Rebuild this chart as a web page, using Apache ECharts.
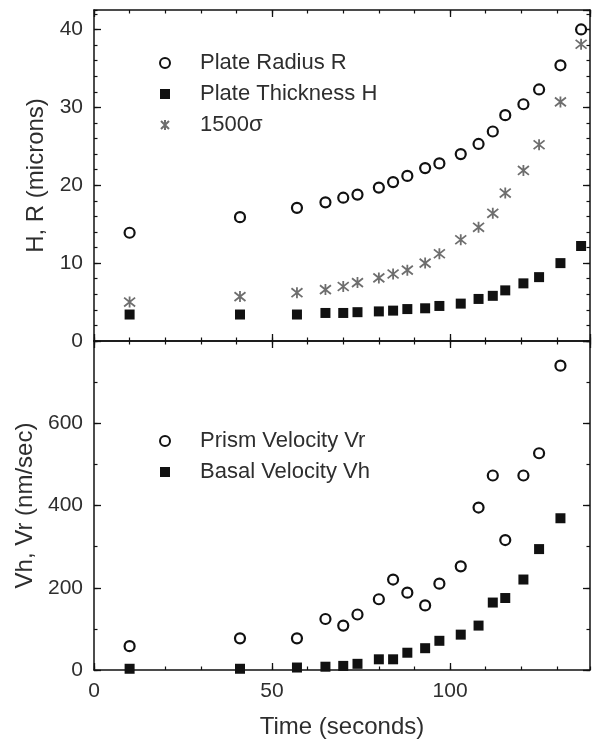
<!DOCTYPE html>
<html>
<head>
<meta charset="utf-8">
<script src="https://cdn.jsdelivr.net/npm/echarts@6/dist/echarts.min.js"></script>
<style>
  html, body { margin: 0; padding: 0; background: #ffffff; }
  #chart { width: 592px; height: 744px; }
</style>
</head>
<body>
<div id="chart"></div>
<script>
// Sampling times (s)
const timeTop = [10, 41, 57, 65, 70, 74, 80, 84, 88, 93, 97, 103, 108, 112, 115.5, 120.6, 125, 131, 136.8];
const timeBottom = [10, 41, 57, 65, 70, 74, 80, 84, 88, 93, 97, 103, 108, 112, 115.5, 120.6, 125, 131];

// Upper panel: plate dimensions (microns)
const plateRadius = [13.9, 15.9, 17.1, 17.8, 18.4, 18.8, 19.7, 20.4, 21.2, 22.2, 22.8, 24.0, 25.3, 26.9, 29.0, 30.4, 32.3, 35.4, 40.0];
const plateThickness = [3.4, 3.4, 3.4, 3.6, 3.6, 3.7, 3.8, 3.9, 4.1, 4.2, 4.5, 4.8, 5.4, 5.8, 6.5, 7.4, 8.2, 10.0, 12.2];
const sigma1500 = [5.0, 5.7, 6.2, 6.6, 7.0, 7.5, 8.1, 8.6, 9.1, 10.0, 11.2, 13.0, 14.6, 16.4, 19.0, 21.9, 25.2, 30.7, 38.1];

// Lower panel: growth velocities (nm/sec)
const prismVelocity = [58, 77, 77, 124, 108, 135, 172, 220, 188, 157, 210, 252, 395, 473, 316, 473, 527, 740];
const basalVelocity = [3, 3, 6, 8, 10, 15, 26, 26, 42, 53, 71, 86, 108, 164, 175, 220, 294, 369];

// Axis ticks
const xMax = 139.3, xMajor = 50, xMinor = 10;
const topMax = 42.5, topMajor = 10, topMinor = 2;
const botMax = 800, botMajor = 200, botMinor = 100;

const FONT = 'Liberation Sans, Arial, sans-serif';
const INK = '#111111';
const TEXT = '#2e2e2e';

const pairs = (xs, ys) => ys.map((y, i) => [xs[i], y]);

function axisGroup(kind, gridIndex, max, major, minor, opts) {
  // main axis with frame line, long ticks and labels, plus a short-tick companion,
  // mirrored on the opposite side of the plot box
  const sides = kind === 'x' ? ['bottom', 'top'] : ['left', 'right'];
  const out = [];
  sides.forEach((pos, s) => {
    const base = {
      type: 'value', gridIndex, position: pos, min: 0, max,
      splitLine: { show: false }
    };
    out.push(Object.assign({}, base, {
      interval: major,
      axisLine: { show: true, onZero: false, lineStyle: { color: INK, width: 1.5 } },
      axisTick: { show: true, inside: true, length: 7, lineStyle: { color: INK, width: 1.3 } },
      axisLabel: {
        show: s === 0 && opts.labels, showMaxLabel: false, margin: 11,
        fontSize: 21, color: TEXT, fontFamily: FONT
      },
      name: s === 0 ? opts.name : '',
      nameLocation: 'middle', nameGap: opts.nameGap,
      nameRotate: kind === 'y' ? 90 : 0,
      nameTextStyle: { fontSize: 24, color: TEXT, fontFamily: FONT }
    }));
    out.push(Object.assign({}, base, {
      interval: minor,
      axisLine: { show: false, onZero: false },
      axisTick: { show: true, inside: true, length: 3.5, lineStyle: { color: INK, width: 1.2 } },
      axisLabel: { show: false }
    }));
  });
  return out;
}

const xAxes = [].concat(
  axisGroup('x', 0, xMax, xMajor, xMinor, { labels: false, name: '' }),
  axisGroup('x', 1, xMax, xMajor, xMinor, { labels: true, name: 'Time (seconds)', nameGap: 45 })
);
const yAxes = [].concat(
  axisGroup('y', 0, topMax, topMajor, topMinor, { labels: true, name: 'H, R (microns)', nameGap: 44 }),
  axisGroup('y', 1, botMax, botMajor, botMinor, { labels: true, name: 'Vh, Vr (nm/sec)', nameGap: 44 })
);

const asterisk = 'path://M1,1L9,9M9,1L1,9M5,0L5,10';

const openCircle = { symbol: 'circle', symbolSize: 10, itemStyle: { color: '#ffffff', borderColor: INK, borderWidth: 2.2, opacity: 1 } };
const filledSquare = { symbol: 'rect', symbolSize: 10, itemStyle: { color: INK, opacity: 1 } };
const grayStar = { symbol: asterisk, symbolSize: 11, itemStyle: { color: 'rgba(0,0,0,0)', borderColor: '#6e6e6e', borderWidth: 1.8, opacity: 1 } };

const legendBase = {
  orient: 'vertical', left: 154, itemWidth: 10, itemHeight: 10, itemGap: 9,
  selectedMode: false,
  textStyle: { fontSize: 22, lineHeight: 22, color: TEXT, fontFamily: FONT, padding: [0, 0, 0, 25] }
};

const option = {
  backgroundColor: '#ffffff',
  animation: false,
  grid: [
    { left: 94, right: 2, top: 10, height: 331 },
    { left: 94, right: 2, top: 341, height: 329 }
  ],
  xAxis: xAxes,
  yAxis: yAxes,
  legend: [
    Object.assign({}, legendBase, { top: 47, data: ['Plate Radius R', 'Plate Thickness H', '1500σ'] }),
    Object.assign({}, legendBase, { top: 425, data: ['Prism Velocity Vr', 'Basal Velocity Vh'] })
  ],
  series: [
    Object.assign({ type: 'scatter', name: 'Plate Radius R', xAxisIndex: 0, yAxisIndex: 0, data: pairs(timeTop, plateRadius) }, openCircle),
    Object.assign({ type: 'scatter', name: 'Plate Thickness H', xAxisIndex: 0, yAxisIndex: 0, data: pairs(timeTop, plateThickness) }, filledSquare),
    Object.assign({ type: 'scatter', name: '1500σ', xAxisIndex: 0, yAxisIndex: 0, data: pairs(timeTop, sigma1500) }, grayStar),
    Object.assign({ type: 'scatter', name: 'Prism Velocity Vr', xAxisIndex: 4, yAxisIndex: 4, data: pairs(timeBottom, prismVelocity) }, openCircle),
    Object.assign({ type: 'scatter', name: 'Basal Velocity Vh', xAxisIndex: 4, yAxisIndex: 4, data: pairs(timeBottom, basalVelocity) }, filledSquare)
  ]
};

const chart = echarts.init(document.getElementById('chart'), null, { renderer: 'canvas' });
chart.setOption(option);
</script>
</body>
</html>
